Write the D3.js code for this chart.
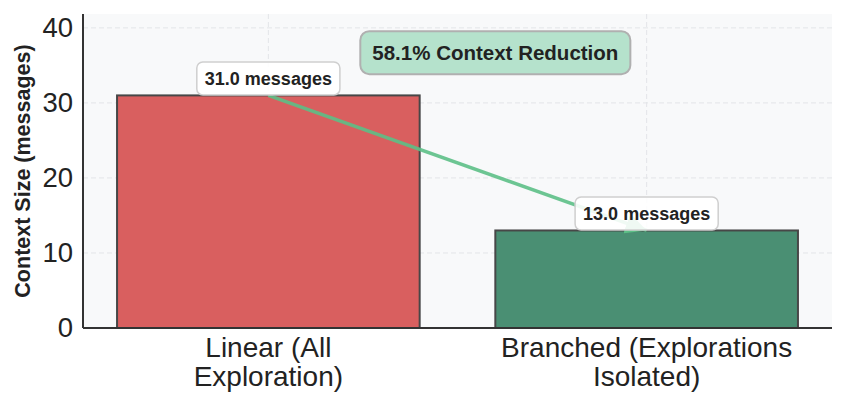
<!DOCTYPE html>
<html>
<head>
<meta charset="utf-8">
<script src="https://cdn.jsdelivr.net/npm/d3@7"></script>
<style>
  body { margin: 0; background: #fff; }
  text { font-family: "Liberation Sans", Arial, sans-serif; }
</style>
</head>
<body>
<div id="chart"></div>
<script>
var categories = [["Linear (All", "Exploration)"], ["Branched (Explorations", "Isolated)"]];
var values = [31, 13];
var barColors = ["#d95f5f", "#4a8f73"];
var yTicks = [0, 10, 20, 30, 40];
var reduction = (1 - values[1] / values[0]) * 100;

var W = 847, H = 408;
var margin = {top: 14, right: 15, bottom: 80, left: 83};
var width = W - margin.left - margin.right, height = H - margin.top - margin.bottom;

var svg = d3.select("#chart").append("svg").attr("width", W).attr("height", H);
var g = svg.append("g").attr("transform", `translate(${margin.left},${margin.top})`);

var x = d3.scaleLinear().domain([-0.49, 1.49]).range([0, width]);
var y = d3.scaleLinear().domain([0, values[0] * 1.35]).range([height, 0]);

g.append("rect").attr("width", width).attr("height", height).attr("fill", "#f8f9fa");

// grid
g.append("g").selectAll("line").data(yTicks).join("line")
  .attr("x1", 0).attr("x2", width).attr("y1", d => y(d)).attr("y2", d => y(d))
  .attr("stroke", "#e3e5e8").attr("stroke-width", 1).attr("stroke-dasharray", "5,3");
g.append("g").selectAll("line").data(values).join("line")
  .attr("x1", (d, i) => x(i)).attr("x2", (d, i) => x(i)).attr("y1", 0).attr("y2", height)
  .attr("stroke", "#e3e5e8").attr("stroke-width", 1).attr("stroke-dasharray", "5,3");

// bars
g.append("g").selectAll("rect").data(values).join("rect")
  .attr("x", (d, i) => x(i - 0.4)).attr("width", x(0.4) - x(-0.4))
  .attr("y", d => y(d)).attr("height", d => height - y(d))
  .attr("fill", (d, i) => barColors[i]).attr("stroke", "#474747").attr("stroke-width", 2);

// arrow between bars
svg.append("defs").append("marker").attr("id", "ah").attr("viewBox", "0 0 10 10")
  .attr("refX", 10).attr("refY", 5).attr("markerWidth", 6).attr("markerHeight", 6).attr("orient", "auto")
  .append("path").attr("d", "M0,0L10,5L0,10z").attr("fill", "#5cbf86");
g.append("line")
  .attr("x1", x(0)).attr("y1", y(values[0])).attr("x2", x(1)).attr("y2", y(values[1]))
  .attr("stroke", "#5cbf86").attr("stroke-opacity", 0.9).attr("stroke-width", 3.5)
  .attr("marker-end", "url(#ah)");

// value labels
values.forEach(function(v, i) {
  var lg = g.append("g").attr("transform", `translate(${x(i)},${y(v) - 17})`);
  var t = lg.append("text").attr("text-anchor", "middle").attr("dy", "0.35em")
    .attr("font-size", 18).attr("font-weight", "bold").attr("fill", "#222")
    .text(v.toFixed(1) + " messages");
  var bb = t.node().getBBox();
  lg.insert("rect", "text").attr("x", bb.x - 8).attr("y", -16.5).attr("width", bb.width + 16).attr("height", 33)
    .attr("rx", 6).attr("fill", "#fff").attr("fill-opacity", 0.9).attr("stroke", "#cfcfcf").attr("stroke-width", 1.5);
});

// reduction box
var rg = g.append("g").attr("transform", `translate(${x(0.6)},${y(36.7)})`);
var rt = rg.append("text").attr("text-anchor", "middle").attr("dy", "0.35em")
  .attr("font-size", 20.5).attr("font-weight", "bold").attr("fill", "#222")
  .text(reduction.toFixed(1) + "% Context Reduction");
var rb = rt.node().getBBox();
rg.insert("rect", "text").attr("x", rb.x - 12).attr("y", -21.5).attr("width", rb.width + 24).attr("height", 43)
  .attr("rx", 9).attr("fill", "#b5e2cc").attr("stroke", "#b0b0b0").attr("stroke-width", 2);

// axes
var yAxis = g.append("g").call(d3.axisLeft(y).tickValues(yTicks).tickSize(0).tickPadding(10));
yAxis.select(".domain").remove();
yAxis.selectAll("text").attr("font-size", 27.5).attr("fill", "#222");
g.append("line").attr("x1", 0).attr("x2", 0).attr("y1", 0).attr("y2", height).attr("stroke", "#333").attr("stroke-width", 2);
g.append("line").attr("x1", 0).attr("x2", width).attr("y1", height).attr("y2", height).attr("stroke", "#333").attr("stroke-width", 2);

// category labels
categories.forEach(function(lines, i) {
  var t = g.append("text").attr("text-anchor", "middle").attr("x", x(i)).attr("y", height + 29)
    .attr("font-size", 28).attr("fill", "#222");
  lines.forEach(function(l, j) {
    t.append("tspan").attr("x", x(i)).attr("dy", j ? 28.5 : 0).text(l);
  });
});

svg.append("text").attr("transform", `translate(30,${margin.top + height / 2}) rotate(-90)`)
  .attr("text-anchor", "middle").attr("font-size", 21.5).attr("font-weight", "bold").attr("fill", "#222")
  .text("Context Size (messages)");
</script>
</body>
</html>
